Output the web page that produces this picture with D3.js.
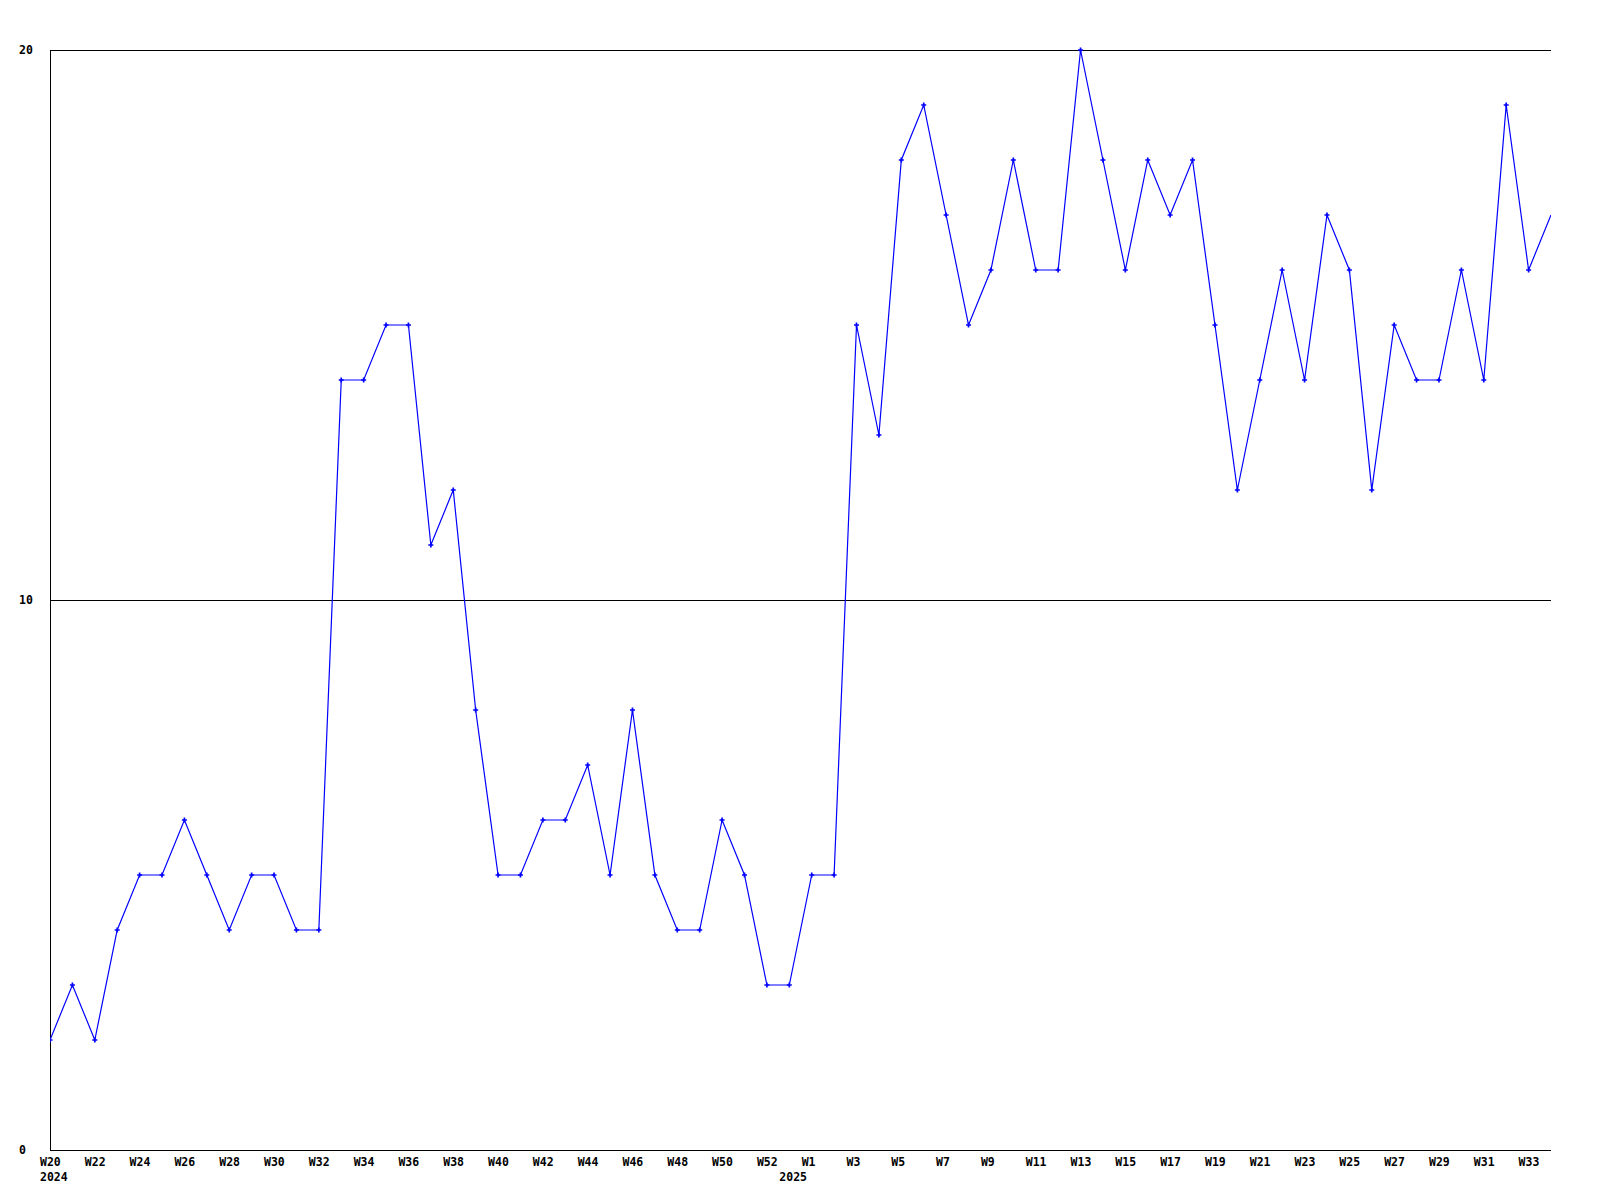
<!DOCTYPE html>
<html>
<head>
<meta charset="utf-8">
<script src="https://cdn.jsdelivr.net/npm/d3@7"></script>
<style>
  html, body { margin: 0; padding: 0; background: #fff; }
  svg text { font-family: "DejaVu Sans Mono", "Liberation Mono", monospace; font-weight: bold; font-size: 11.5px; fill: #000; }
</style>
</head>
<body>
<svg id="chart" width="1600" height="1200"></svg>
<script>
// Week labels (2024 W20 .. W53, 2025 W1 .. W34)
const weeks = [
  "W20","W21","W22","W23","W24","W25","W26","W27","W28","W29","W30","W31","W32","W33","W34","W35","W36","W37","W38","W39",
  "W40","W41","W42","W43","W44","W45","W46","W47","W48","W49","W50","W51","W52","W53",
  "W1","W2","W3","W4","W5","W6","W7","W8","W9","W10","W11","W12","W13","W14","W15","W16","W17","W18","W19","W20",
  "W21","W22","W23","W24","W25","W26","W27","W28","W29","W30","W31","W32","W33","W34"
];
const values = [
  2,3,2,4,5,5,6,5,4,5,5,4,4,14,14,15,15,11,12,8,
  5,5,6,6,7,5,8,5,4,4,6,5,3,3,
  5,5,15,13,18,19,17,15,16,18,16,16,20,18,16,18,17,18,15,12,
  14,16,14,17,16,12,15,14,14,16,14,19,16,17
];
const yearLabels = [{ idx: 0, text: "2024" }, { idx: 33, text: "2025" }];
const yTicks = [0, 10, 20];

const margin = { left: 50, right: 49, top: 50, bottom: 50 };
const W = 1600, H = 1200;
const svg = d3.select("#chart");

const x = d3.scaleLinear().domain([0, values.length - 1]).range([margin.left, W - margin.right]);
const y = d3.scaleLinear().domain([0, 20]).range([H - margin.bottom, margin.top]);

// gridlines
svg.append("g").selectAll("line").data(yTicks.filter(d => d > 0)).join("line")
  .attr("x1", margin.left).attr("x2", W - margin.right)
  .attr("y1", d => Math.round(y(d)) + 0.5).attr("y2", d => Math.round(y(d)) + 0.5)
  .attr("stroke", "#000").attr("stroke-width", 1).attr("shape-rendering", "crispEdges");

// axes lines
svg.append("line").attr("x1", margin.left + 0.5).attr("x2", margin.left + 0.5)
  .attr("y1", margin.top).attr("y2", H - margin.bottom + 0.5)
  .attr("stroke", "#000").attr("shape-rendering", "crispEdges");
svg.append("line").attr("x1", margin.left).attr("x2", W - margin.right)
  .attr("y1", H - margin.bottom + 0.5).attr("y2", H - margin.bottom + 0.5)
  .attr("stroke", "#000").attr("shape-rendering", "crispEdges");

// y tick labels
svg.append("g").selectAll("text").data(yTicks).join("text")
  .attr("x", 19).attr("y", d => y(d)).attr("dy", "0.35em")
  .text(d => d);

// x tick labels (every second week)
svg.append("g").selectAll("text").data(weeks.map((w, i) => ({ w, i })).filter(d => d.i % 2 === 0)).join("text")
  .attr("x", d => x(d.i) - 10).attr("y", 1166)
  .text(d => d.w);

// year labels
svg.append("g").selectAll("text").data(yearLabels).join("text")
  .attr("x", d => x(d.idx) - 10).attr("y", 1181)
  .text(d => d.text);

// clip
svg.append("clipPath").attr("id", "clip").append("rect")
  .attr("x", margin.left).attr("y", margin.top - 3)
  .attr("width", W - margin.right - margin.left).attr("height", H - margin.bottom - margin.top + 6);

const g = svg.append("g").attr("clip-path", "url(#clip)");
const line = d3.line().x((d, i) => x(i)).y(d => y(d));
g.append("path").datum(values).attr("d", line)
  .attr("fill", "none").attr("stroke", "#0000ff").attr("stroke-width", 1.2);

g.selectAll("path.m").data(values.slice(0, values.length - 1)).join("path")
  .attr("class", "m")
  .attr("d", d3.symbol().type(d3.symbolCross).size(14))
  .attr("transform", (d, i) => `translate(${x(i)},${y(d)})`)
  .attr("fill", "#0000ff");
</script>
</body>
</html>
